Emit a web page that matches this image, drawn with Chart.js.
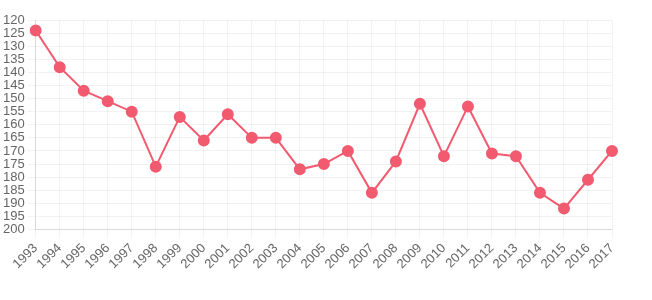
<!DOCTYPE html>
<html>
<head>
<meta charset="utf-8">
<script src="https://cdn.jsdelivr.net/npm/chart.js@4"></script>
<style>
  html, body { margin: 0; padding: 0; background: #fff; }
  #wrap { width: 652px; height: 300px; }
</style>
</head>
<body>
<div id="wrap"><canvas id="chart"></canvas></div>
<script>
const years = ['1993', '1994', '1995', '1996', '1997', '1998', '1999', '2000', '2001', '2002',
  '2003', '2004', '2005', '2006', '2007', '2008', '2009', '2010', '2011', '2012',
  '2013', '2014', '2015', '2016', '2017'];
const values = [124, 138, 147, 151, 155, 176, 157, 166, 156, 165,
  165, 177, 175, 170, 186, 174, 152, 172, 153, 171,
  172, 186, 192, 181, 170];
const yMin = 120;
const yMax = 200;
const yStep = 5;

Chart.defaults.font.family = '"Liberation Sans", Arial, sans-serif';
Chart.defaults.font.size = 13;
Chart.defaults.color = '#666';

new Chart(document.getElementById('chart'), {
  type: 'line',
  data: {
    labels: years,
    datasets: [{
      data: values,
      borderColor: '#f25b6f',
      backgroundColor: '#f25b6f',
      pointBackgroundColor: '#f25b6f',
      borderWidth: 2,
      pointRadius: 5,
      tension: 0,
      fill: false,
    }]
  },
  options: {
    responsive: true,
    maintainAspectRatio: false,
    animation: false,
    layout: { padding: { top: 20, right: 40, left: 0, bottom: 25 } },
    plugins: { legend: { display: false }, tooltip: { enabled: false } },
    scales: {
      x: {
        grid: { color: 'rgba(0,0,0,0.05)' },
        ticks: { minRotation: 45, maxRotation: 45, autoSkip: false },
      },
      y: {
        reverse: true,
        min: yMin,
        max: yMax,
        grid: { color: 'rgba(0,0,0,0.05)' },
        ticks: { stepSize: yStep, autoSkip: false },
      }
    }
  }
});
</script>
</body>
</html>
